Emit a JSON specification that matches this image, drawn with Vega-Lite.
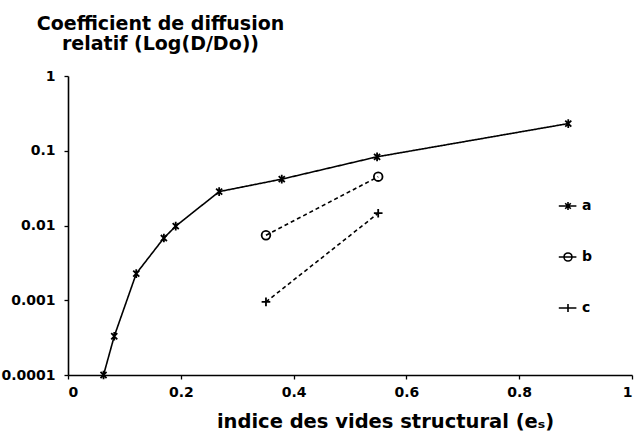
{
  "$schema": "https://vega.github.io/schema/vega-lite/v6.json",
  "width": 564,
  "height": 299,
  "autosize": "none",
  "padding": {"left": 68, "top": 76, "right": 3, "bottom": 62},
  "background": "white",
  "config": {
    "view": {"stroke": null},
    "font": "DejaVu Sans",
    "axis": {
      "grid": false,
      "domainColor": "black",
      "domainWidth": 1.6,
      "tickColor": "black",
      "tickWidth": 1.3,
      "labelColor": "black",
      "titleColor": "black",
      "labelFont": "DejaVu Sans",
      "titleFont": "DejaVu Sans",
      "labelFontWeight": "bold",
      "labelFontSize": 14,
      "titleFontWeight": "bold",
      "titleFontSize": 19
    }
  },
  "data": {
    "values": [
      {"series": "a", "x": 0.063, "y": 0.0001},
      {"series": "a", "x": 0.082, "y": 0.00033},
      {"series": "a", "x": 0.121, "y": 0.00227},
      {"series": "a", "x": 0.170, "y": 0.0068},
      {"series": "a", "x": 0.191, "y": 0.0098},
      {"series": "a", "x": 0.268, "y": 0.0284},
      {"series": "a", "x": 0.379, "y": 0.0417},
      {"series": "a", "x": 0.548, "y": 0.083},
      {"series": "a", "x": 0.887, "y": 0.231},
      {"series": "b", "x": 0.351, "y": 0.0074},
      {"series": "b", "x": 0.550, "y": 0.045},
      {"series": "c", "x": 0.351, "y": 0.00095},
      {"series": "c", "x": 0.550, "y": 0.0146}
    ]
  },
  "encoding": {
    "x": {
      "field": "x",
      "type": "quantitative",
      "scale": {"domain": [0, 1]},
      "axis": {
        "values": [0, 0.2, 0.4, 0.6, 0.8, 1],
        "format": "~g",
        "title": "indice des vides structural (eₛ)",
        "titleFontSize": 19.5,
        "titleX": 317,
        "titleY": 46,
        "titleBaseline": "middle",
        "titleAlign": "center",
        "tickSize": 4,
        "labelPadding": 6,
        "encode": {"ticks": {"update": {"y": {"value": -4}}}}
      }
    },
    "y": {
      "field": "y",
      "type": "quantitative",
      "scale": {"type": "log", "domain": [0.0001, 1]},
      "axis": {
        "values": [0.0001, 0.001, 0.01, 0.1, 1],
        "format": "~g",
        "title": ["Coefficient de diffusion", "relatif (Log(D/Do))"],
        "titleAngle": 0,
        "titleX": 92,
        "titleY": -53,
        "titleAlign": "center",
        "titleBaseline": "middle",
        "titleLineHeight": 20,
        "tickSize": 4,
        "labelPadding": 9,
        "encode": {"ticks": {"update": {"x": {"value": 4}}}}
      }
    }
  },
  "layer": [
    {
      "mark": {"type": "line", "color": "black", "strokeWidth": 1.6},
      "encoding": {
        "strokeDash": {
          "field": "series",
          "type": "nominal",
          "scale": {"domain": ["a", "b", "c"], "range": [[1, 0], [4, 3], [4, 3]]},
          "legend": null
        }
      }
    },
    {
      "mark": {"type": "point", "color": "black", "strokeWidth": 1.8, "opacity": 1, "filled": false},
      "encoding": {
        "size": {"value": 75},
        "shape": {
          "field": "series",
          "type": "nominal",
          "scale": {
            "domain": ["a", "b", "c"],
            "range": [
              "M-0.7,-0.7L0.7,0.7M-0.7,0.7L0.7,-0.7M0,-1V1",
              "circle",
              "M-1,0H1M0,-1V1"
            ]
          },
          "legend": null
        }
      }
    },
    {
      "mark": {"type": "point", "color": "black", "strokeWidth": 1.5, "opacity": 0, "filled": false},
      "encoding": {
        "size": {"value": 64},
        "shape": {
          "field": "series",
          "type": "nominal",
          "scale": {
            "domain": ["a", "b", "c"],
            "range": [
              "M-2.3,0H2.1M-0.7,-0.7L0.7,0.7M-0.7,0.7L0.7,-0.7M0,-1V1",
              "M-2.3,0H2.1M1,0A1,1 0 1,1 -1,0A1,1 0 1,1 1,0",
              "M-2.3,0H2.1M0,-1V1"
            ]
          },
          "legend": {
            "orient": "none",
            "legendX": 493,
            "legendY": 123,
            "title": null,
            "padding": 0,
            "rowPadding": 35,
            "labelFont": "DejaVu Sans",
            "labelFontSize": 14,
            "labelFontWeight": "bold",
            "labelColor": "black",
            "labelOffset": 7,
            "symbolSize": 64,
            "symbolOpacity": 1,
            "symbolStrokeColor": "black",
            "symbolFillColor": "transparent",
            "symbolStrokeWidth": 1.6
          }
        }
      }
    }
  ],
  "resolve": {"scale": {"shape": "independent"}}
}
